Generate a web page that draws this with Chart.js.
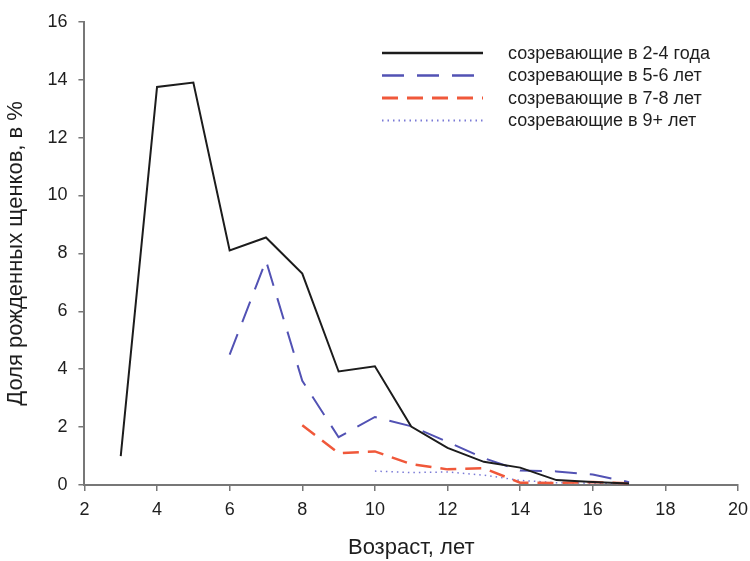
<!DOCTYPE html>
<html>
<head>
<meta charset="utf-8">
<script src="https://cdn.jsdelivr.net/npm/chart.js@4/dist/chart.umd.min.js"></script>
<style>
  html, body { margin: 0; padding: 0; background: #fff; overflow: hidden; }
  #wrap { width: 750px; height: 561px; overflow: hidden; position: relative; }
  #box { width: 762px; height: 561px; position: absolute; left: 0; top: 0; }
</style>
</head>
<body>
<div id="wrap"><div id="box"><canvas id="chart"></canvas></div></div>
<script>
  // Age, years
  var ages = [3, 4, 5, 6, 7, 8, 9, 10, 11, 12, 13, 14, 15, 16, 17];

  // Share of pups born, % (null where a group has no data)
  var mature24 = [1.0, 13.75, 13.9, 8.1, 8.55, 7.3, 3.92, 4.1, 2.02, 1.28, 0.8, 0.6, 0.17, 0.1, 0.05];
  var mature56 = [null, null, null, 4.5, 7.75, 3.6, 1.65, 2.35, 2.03, 1.49, 0.93, 0.5, 0.47, 0.36, 0.1];
  var mature78 = [null, null, null, null, null, 2.06, 1.1, 1.16, 0.72, 0.54, 0.58, 0.08, 0.07, 0.1, 0.06];
  var mature9p = [null, null, null, null, null, null, null, 0.48, 0.43, 0.45, 0.34, 0.16, 0.08, 0.06, 0.05];

  var seriesLabels = [
    'созревающие в 2-4 года',
    'созревающие в 5-6 лет',
    'созревающие в 7-8 лет',
    'созревающие в 9+ лет'
  ];

  var xTicks = [2, 4, 6, 8, 10, 12, 14, 16, 18, 20];
  var yTicks = [0, 2, 4, 6, 8, 10, 12, 14, 16];

  function points(values) {
    var out = [];
    ages.forEach(function (a, i) {
      if (values[i] !== null) {
        out.push({ x: a, y: values[i] });
      }
    });
    return out;
  }

  var fontFamily = "'Liberation Sans', Arial, sans-serif";
  Chart.defaults.font.family = fontFamily;
  Chart.defaults.color = '#1e1e1e';

  var axisGrey = '#777';

  // legend drawn inside the plot, top right
  var insideLegend = {
    id: 'insideLegend',
    afterDraw: function (chart) {
      var ctx = chart.ctx;
      var x0 = 382, x1 = 483, tx = 508, y0 = 53, gap = 22.5;
      ctx.save();
      ctx.font = '18px ' + fontFamily;
      ctx.textBaseline = 'middle';
      chart.data.datasets.forEach(function (ds, i) {
        var y = y0 + i * gap;
        ctx.beginPath();
        ctx.strokeStyle = ds.borderColor;
        ctx.lineWidth = ds.borderWidth + 0.5;
        ctx.setLineDash(ds.borderDash || []);
        ctx.moveTo(x0, y);
        ctx.lineTo(x1, y);
        ctx.stroke();
        ctx.setLineDash([]);
        ctx.fillStyle = '#1e1e1e';
        ctx.fillText(ds.label, tx, y + 1);
      });
      ctx.restore();
    }
  };

  new Chart(document.getElementById('chart'), {
    type: 'line',
    data: {
      datasets: [
        {
          label: seriesLabels[0],
          data: points(mature24),
          borderColor: '#1c1c1c',
          borderWidth: 2,
          pointRadius: 0
        },
        {
          label: seriesLabels[1],
          data: points(mature56),
          borderColor: '#5252b4',
          borderWidth: 2,
          borderDash: [22, 13],
          pointRadius: 0
        },
        {
          label: seriesLabels[2],
          data: points(mature78),
          borderColor: '#f0583a',
          borderWidth: 2.5,
          borderDash: [16, 9],
          pointRadius: 0
        },
        {
          label: seriesLabels[3],
          data: points(mature9p),
          borderColor: '#7a7ad6',
          borderWidth: 1.5,
          borderDash: [1.5, 4],
          pointRadius: 0
        }
      ]
    },
    options: {
      responsive: true,
      maintainAspectRatio: false,
      animation: false,
      layout: { padding: { top: 9, right: 24, left: 1, bottom: 0 } },
      plugins: {
        legend: { display: false },
        tooltip: { enabled: false }
      },
      scales: {
        x: {
          type: 'linear',
          min: 2,
          max: 20,
          afterBuildTicks: function (axis) {
            axis.ticks = xTicks.map(function (v) { return { value: v }; });
          },
          grid: {
            drawOnChartArea: false,
            drawTicks: true,
            tickLength: 6,
            color: axisGrey,
            lineWidth: 1.5
          },
          border: { display: true, color: axisGrey, width: 2 },
          ticks: { font: { size: 18 }, padding: 8, maxRotation: 0 },
          title: {
            display: true,
            text: 'Возраст, лет',
            font: { size: 22 },
            padding: { top: 6, bottom: 0 }
          }
        },
        y: {
          min: 0,
          max: 16,
          afterBuildTicks: function (axis) {
            axis.ticks = yTicks.map(function (v) { return { value: v }; });
          },
          grid: {
            drawOnChartArea: false,
            drawTicks: true,
            tickLength: 6,
            color: axisGrey,
            lineWidth: 1.5
          },
          border: { display: true, color: axisGrey, width: 2 },
          ticks: { font: { size: 18 }, padding: 11 },
          title: {
            display: true,
            text: 'Доля рожденных щенков, в %',
            font: { size: 22 },
            padding: { top: 2, bottom: 7 }
          }
        }
      }
    },
    plugins: [insideLegend]
  });
</script>
</body>
</html>
